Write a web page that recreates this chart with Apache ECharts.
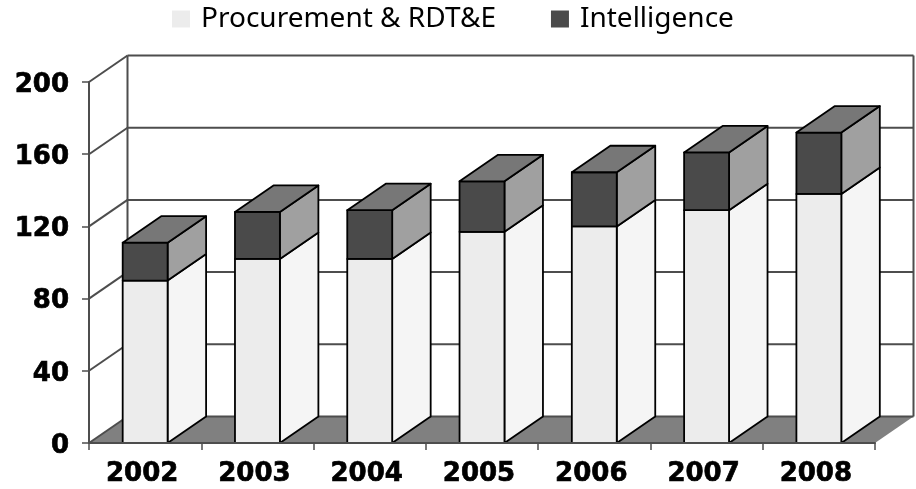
<!DOCTYPE html>
<html>
<head>
<meta charset="utf-8">
<title>Procurement and Intelligence</title>
<script src="https://cdn.jsdelivr.net/npm/echarts@6/dist/echarts.min.js"></script>
<style>
html, body { margin: 0; padding: 0; background: #fff; }
#chart { width: 916px; height: 489px; }
</style>
</head>
<body>
<div id="chart"></div>
<script>
var years = ['2002', '2003', '2004', '2005', '2006', '2007', '2008'];
var procurement = [90, 102, 102, 117, 120, 129, 138];
var intelligence = [21, 26, 27, 28, 30, 32, 34];
var yTicks = [0, 40, 80, 120, 160, 200];

// 3d look: how far the back wall sits from the front plane
var depthX = 38.5;
var depthY = -26.5;
var barRatio = 0.4;

var chart = echarts.init(document.getElementById('chart'));

function line(x1, y1, x2, y2) {
    return {
        type: 'line',
        shape: {x1: x1, y1: y1, x2: x2, y2: y2},
        style: {stroke: '#4d4d4d', lineWidth: 2, fill: null}
    };
}

function poly(points, fill) {
    return {
        type: 'polygon',
        shape: {points: points},
        style: {fill: fill, stroke: '#000', lineWidth: 1.8, lineJoin: 'round'}
    };
}

// one box: front, side and (optionally) top
function box(api, low, high, colors) {
    var c = api.coord([api.value(0), high]);
    var b = api.coord([api.value(0), low]);
    var w = api.size([1, 0])[0] * barRatio;
    var l = c[0] - w / 2, r = c[0] + w / 2;
    var parts = [
        poly([[r, b[1]], [r + depthX, b[1] + depthY], [r + depthX, c[1] + depthY], [r, c[1]]], colors[1]),
        poly([[l, b[1]], [r, b[1]], [r, c[1]], [l, c[1]]], colors[0])
    ];
    if (colors[2]) {
        parts.push(poly([[l, c[1]], [r, c[1]], [r + depthX, c[1] + depthY], [l + depthX, c[1] + depthY]], colors[2]));
    }
    return {type: 'group', children: parts};
}

function renderWall(params, api) {
    var sys = params.coordSys;
    var left = sys.x, right = sys.x + sys.width;
    var y = api.coord([0, api.value(0)])[1];
    var kids = [];
    if (api.value(0) === 0) {
        kids.push({
            type: 'polygon',
            shape: {points: [[left, y], [left + depthX, y + depthY], [right + depthX, y + depthY], [right, y]]},
            style: {fill: '#808080'}
        });
    }
    kids.push(line(left, y, left + depthX, y + depthY));
    kids.push(line(left + depthX, y + depthY, right + depthX, y + depthY));
    if (api.value(0) === yTicks[yTicks.length - 1]) {
        var bottom = api.coord([0, 0])[1] + depthY;
        kids.push(line(left + depthX, y + depthY, left + depthX, bottom));
        kids.push(line(right + depthX, y + depthY, right + depthX, bottom));
    }
    return {type: 'group', children: kids};
}

chart.setOption({
    animation: false,
    legend: {
        top: 0,
        left: 167,
        itemWidth: 18,
        itemHeight: 17,
        itemGap: 55,
        icon: 'rect',
        selectedMode: false,
        textStyle: {fontFamily: 'Noto Sans', fontSize: 28, color: '#000', padding: [0, 0, 0, 6]},
        data: ['Procurement & RDT&E', 'Intelligence']
    },
    grid: {left: 89, right: 41, top: 82, bottom: 46},
    xAxis: {
        type: 'category',
        data: years,
        axisLine: {lineStyle: {color: '#4d4d4d', width: 2}},
        axisTick: {show: true, alignWithLabel: false, length: 7, lineStyle: {color: '#4d4d4d', width: 1.5}},
        axisLabel: {
            fontFamily: 'DejaVu Sans', fontWeight: 'bold', fontSize: 26, color: '#000',
            textBorderColor: '#000', textBorderWidth: 0.7,
            margin: 18, padding: [0, 6, 0, 0]
        },
        z: 10
    },
    yAxis: {
        type: 'value',
        min: 0,
        max: 200,
        interval: 40,
        axisLine: {show: true, lineStyle: {color: '#4d4d4d', width: 2}},
        axisTick: {show: true, length: 7, lineStyle: {color: '#4d4d4d', width: 1.5}},
        axisLabel: {
            fontFamily: 'DejaVu Sans', fontWeight: 'bold', fontSize: 26, color: '#000',
            textBorderColor: '#000', textBorderWidth: 0.7,
            margin: 20, verticalAlign: 'top', lineHeight: 6
        },
        splitLine: {show: false}
    },
    series: [
        {
            type: 'custom',
            silent: true,
            clip: false,
            z: 1,
            renderItem: renderWall,
            encode: {y: 0},
            data: yTicks.map(function (v) { return [v]; })
        },
        {
            name: 'Procurement & RDT&E',
            type: 'custom',
            silent: true,
            clip: false,
            z: 2,
            itemStyle: {color: '#ececec'},
            renderItem: function (params, api) {
                return box(api, 0, api.value(1), ['#ececec', '#f5f5f5']);
            },
            encode: {x: 0, y: 1},
            data: procurement.map(function (v, i) { return [i, v]; })
        },
        {
            name: 'Intelligence',
            type: 'custom',
            silent: true,
            clip: false,
            z: 3,
            itemStyle: {color: '#4a4a4a'},
            renderItem: function (params, api) {
                return box(api, api.value(1), api.value(2), ['#4a4a4a', '#a0a0a0', '#777777']);
            },
            encode: {x: 0, y: 2},
            data: intelligence.map(function (v, i) { return [i, procurement[i], procurement[i] + v]; })
        }
    ]
});
</script>
</body>
</html>
